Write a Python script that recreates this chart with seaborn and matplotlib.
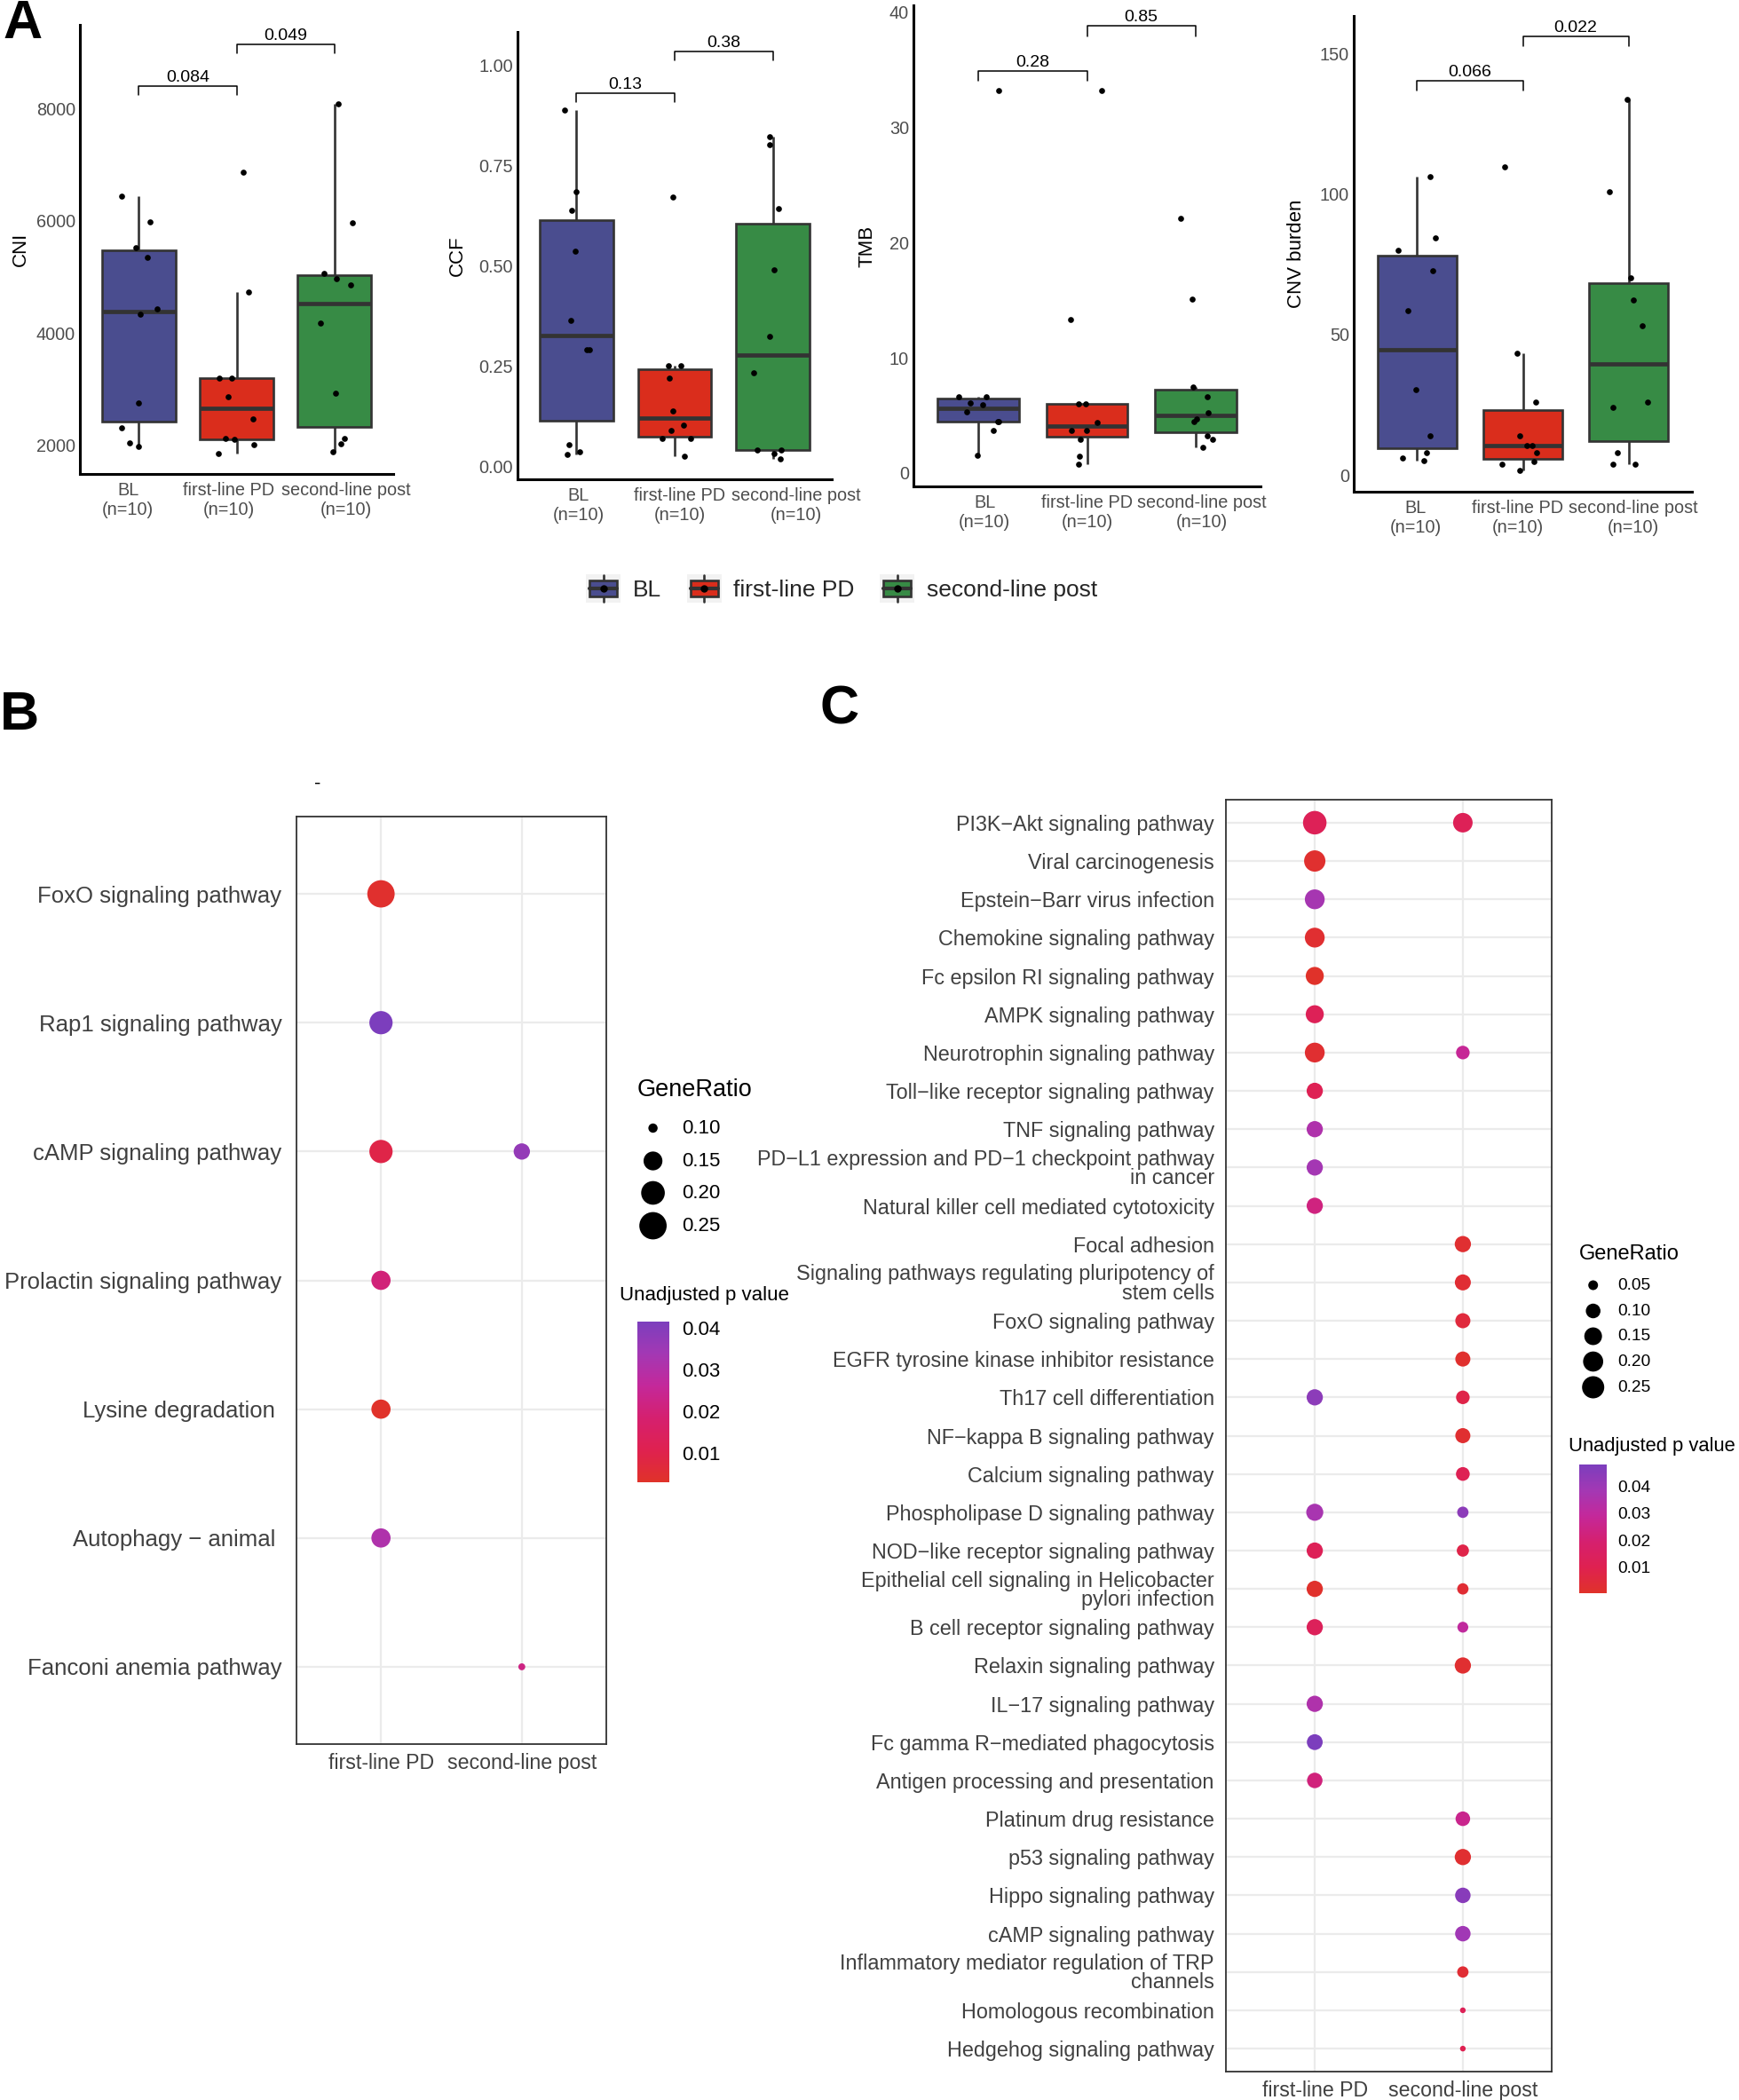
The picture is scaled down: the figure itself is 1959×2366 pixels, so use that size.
"""Copy-number / TMB boxplots (A) and KEGG enrichment dot plots (B, C)."""

import matplotlib

matplotlib.use("Agg")  # no display in the sandbox
import matplotlib.pyplot as plt
import numpy as np
import pandas as pd
import seaborn as sns
from matplotlib.cm import ScalarMappable
from matplotlib.colors import LinearSegmentedColormap, Normalize
from matplotlib.legend_handler import HandlerBase
from matplotlib.lines import Line2D
from matplotlib.patches import Patch, Rectangle

W, H, DPI = 1959, 2366, 100

GROUPS = ["BL", "first-line PD", "second-line post"]
GROUP_LABELS = ["BL\n(n=10)", "first-line PD\n(n=10)", "second-line post\n(n=10)"]
GROUP_COLORS = ["#4A4D8F", "#DA2D1C", "#378B45"]
EDGE = "#333333"

# ---- panel A: per-sample values ----
cni_bl = [6446, 5983, 5527, 5350, 4425, 4332, 2744, 2313, 2031, 1975]
cni_pd = [6865, 4726, 3200, 3200, 2863, 2463, 2125, 2094, 2013, 1850]
cni_post = [8094, 5970, 5058, 4977, 4865, 4176, 2931, 2125, 2019, 1881]

ccf_bl = [0.888, 0.684, 0.639, 0.537, 0.363, 0.290, 0.290, 0.053, 0.035, 0.030]
ccf_pd = [0.671, 0.250, 0.250, 0.220, 0.137, 0.102, 0.089, 0.069, 0.069, 0.025]
ccf_post = [0.821, 0.801, 0.642, 0.490, 0.323, 0.233, 0.041, 0.041, 0.031, 0.018]

tmb_bl = [33.2, 6.62, 6.62, 6.07, 5.95, 5.34, 4.48, 4.48, 3.72, 1.50]
tmb_pd = [33.2, 13.35, 6.0, 6.0, 4.42, 3.72, 3.72, 2.96, 1.43, 0.73]
tmb_post = [22.1, 15.1, 7.47, 6.62, 5.25, 4.70, 4.48, 3.26, 2.96, 2.26]

cnv_bl = [106.3, 84.4, 79.9, 72.8, 58.6, 30.5, 13.8, 8.0, 6.1, 5.2]
cnv_pd = [109.7, 43.4, 26.0, 13.8, 10.6, 10.6, 8.0, 4.8, 3.7, 1.5]
cnv_post = [133.6, 100.8, 70.0, 62.4, 53.0, 25.8, 24.1, 8.0, 3.9, 3.9]

cni_p = ["0.084", "0.049"]
ccf_p = ["0.13", "0.38"]
tmb_p = ["0.28", "0.85"]
cnv_p = ["0.066", "0.022"]

# ---- panel B: enrichment ----
b_pathways = [
    "FoxO signaling pathway",
    "Rap1 signaling pathway",
    "cAMP signaling pathway",
    "Prolactin signaling pathway",
    "Lysine degradation ",
    "Autophagy \u2212 animal ",
    "Fanconi anemia pathway",
]
b_ratio_pd = [0.25, 0.195, 0.195, 0.153, 0.153, 0.153, None]
b_ratio_post = [None, None, 0.13, None, None, None, 0.098]
b_p_pd = [0.0038, 0.0414, 0.009, 0.020, 0.003, 0.031, None]
b_p_post = [None, None, 0.0365, None, None, None, 0.022]

# ---- panel C: enrichment ----
c_pathways = [
    "PI3K\u2212Akt signaling pathway",
    "Viral carcinogenesis",
    "Epstein\u2212Barr virus infection",
    "Chemokine signaling pathway",
    "Fc epsilon RI signaling pathway",
    "AMPK signaling pathway",
    "Neurotrophin signaling pathway",
    "Toll\u2212like receptor signaling pathway",
    "TNF signaling pathway",
    "PD\u2212L1 expression and PD\u22121 checkpoint pathway\nin cancer",
    "Natural killer cell mediated cytotoxicity",
    "Focal adhesion",
    "Signaling pathways regulating pluripotency of\nstem cells",
    "FoxO signaling pathway",
    "EGFR tyrosine kinase inhibitor resistance",
    "Th17 cell differentiation",
    "NF\u2212kappa B signaling pathway",
    "Calcium signaling pathway",
    "Phospholipase D signaling pathway",
    "NOD\u2212like receptor signaling pathway",
    "Epithelial cell signaling in Helicobacter\npylori infection",
    "B cell receptor signaling pathway",
    "Relaxin signaling pathway",
    "IL\u221217 signaling pathway",
    "Fc gamma R\u2212mediated phagocytosis",
    "Antigen processing and presentation",
    "Platinum drug resistance",
    "p53 signaling pathway",
    "Hippo signaling pathway",
    "cAMP signaling pathway",
    "Inflammatory mediator regulation of TRP\nchannels",
    "Homologous recombination",
    "Hedgehog signaling pathway",
]
c_ratio_pd = [0.286, 0.228, 0.193, 0.193, 0.156, 0.156, 0.193, 0.124, 0.124, 0.124,
              0.124, None, None, None, None, 0.124, None, None, 0.138, 0.124,
              0.124, 0.124, None, 0.124, 0.117, 0.112, None, None, None, None,
              None, None, None]
c_ratio_post = [0.187, None, None, None, None, None, 0.086, None, None, None,
                None, 0.124, 0.120, 0.106, 0.106, 0.086, 0.106, 0.088, 0.062, 0.070,
                0.062, 0.058, 0.124, None, None, None, 0.099, 0.124, 0.112, 0.112,
                0.062, 0.037, 0.037]
c_p_pd = [0.012, 0.0017, 0.0375, 0.002, 0.0003, 0.012, 0.002, 0.011, 0.035, 0.038,
          0.023, None, None, None, None, 0.044, None, None, 0.037, 0.012,
          0.001, 0.013, None, 0.035, 0.048, 0.022, None, None, None, None,
          None, None, None]
c_p_post = [0.012, None, None, None, None, None, 0.028, None, None, None,
            None, 0.002, 0.003, 0.005, 0.0015, 0.008, 0.002, 0.011, 0.044, 0.008,
            0.003, 0.030, 0.002, None, None, None, 0.026, 0.002, 0.045, 0.039,
            0.003, 0.012, 0.010]

PCMAP = LinearSegmentedColormap.from_list(
    "pval", ["#E0322A", "#DF2150", "#D5206F", "#C4289A", "#A338B4", "#7C3EBD"]
)


def px_axes(fig, box, **kw):
    l, t, r, b = box
    return fig.add_axes([l / W, 1 - b / H, (r - l) / W, (b - t) / H], **kw)


def gg_size(v, lims, diam_px):
    """ggplot-like area palette -> matplotlib marker area (pt^2)."""
    t = np.clip((np.asarray(v, dtype=float) - lims[0]) / (lims[1] - lims[0]), 0, 1)
    d = diam_px[0] + (diam_px[1] - diam_px[0]) * np.sqrt(t)
    return (d * 72 / DPI) ** 2


class BoxKeyHandler(HandlerBase):
    def create_artists(self, legend, orig_handle, xdescent, ydescent,
                       width, height, fontsize, trans):
        x0, y0 = -xdescent, -ydescent
        cx, cy = x0 + width / 2, y0 + height / 2
        bg = Rectangle((x0, y0), width, height, facecolor="#F2F2F2",
                       edgecolor="none", transform=trans)
        whisk = Line2D([cx, cx], [y0 + 0.04 * height, y0 + 0.96 * height],
                       color=EDGE, lw=1.9, transform=trans)
        box = Rectangle((x0 + 0.1 * width, y0 + 0.22 * height), 0.8 * width,
                        0.56 * height, facecolor=orig_handle.get_facecolor(),
                        edgecolor=EDGE, lw=1.9, transform=trans)
        med = Line2D([x0 + 0.1 * width, x0 + 0.9 * width], [cy, cy],
                     color=EDGE, lw=3.0, transform=trans)
        dot = Line2D([cx], [cy], marker="o", ms=5, color="black",
                     ls="", transform=trans)
        return [bg, whisk, box, med, dot]


def box_panel(fig, box, name, series, pvals, ylim, yticks, fmt, ylab_x, xoffs):
    ax = px_axes(fig, box)
    df = pd.DataFrame({
        "group": np.repeat(GROUPS, [len(s) for s in series]),
        "value": np.concatenate(series),
    })
    sns.boxplot(data=df, x="group", y="value", hue="group", order=GROUPS,
                hue_order=GROUPS, palette=GROUP_COLORS, saturation=1,
                width=0.75, showfliers=False, linecolor=EDGE, linewidth=1.9,
                medianprops={"linewidth": 3.4}, capprops={"visible": False},
                legend=False, ax=ax)
    sns.stripplot(data=df, x="group", y="value", order=GROUPS, color="black",
                  size=4.8, jitter=0.2, linewidth=0, zorder=3, ax=ax)
    ax.set_xlim(-0.6, 2.6)
    ax.set_ylim(*ylim)
    ax.set_yticks(yticks)
    ax.set_yticklabels([fmt.format(v) for v in yticks])
    ax.set_xticks(range(3))
    ax.set_xticklabels([])
    # group labels, nudged sideways like in the original layout
    for i, (lab, dx) in enumerate(zip(GROUP_LABELS, xoffs)):
        ax.annotate(lab, xy=(i, 0), xycoords=ax.get_xaxis_transform(),
                    xytext=(dx * 72 / DPI, -6.2), textcoords="offset points",
                    ha="center", va="top", fontsize=14.3, color="#4D4D4D")
    sns.despine(ax=ax)
    for side in ("left", "bottom"):
        ax.spines[side].set_linewidth(2.2)
        ax.spines[side].set_color("black")
    ax.tick_params(axis="both", length=2.2, width=1.2, color="#4D4D4D",
                   labelcolor="#4D4D4D", labelsize=14.3)
    ax.tick_params(axis="y", pad=1.5)
    ax.set_xlabel("")
    ax.set_ylabel(name, fontsize=16, color="black")
    l, t, r, b = box
    ax.yaxis.set_label_coords((ylab_x - l) / (r - l), 0.5)
    ax.yaxis.label.set_va("center")

    # pairwise comparison brackets
    trans = ax.get_xaxis_transform()
    for (i, j), yb, p in zip([(0, 1), (1, 2)], [0.864, 0.957], pvals):
        ax.plot([i, i, j, j], [yb - 0.021, yb, yb, yb - 0.021], color="black",
                lw=1.1, transform=trans, clip_on=False)
        ax.text((i + j) / 2, yb + 0.009, p, ha="center", va="baseline",
                fontsize=14, color="black", transform=trans)
    return ax


def dot_panel(fig, box, pathways, r_pd, r_post, p_pd, p_post, diam, ytick_fs, ypad):
    rows = []
    for name, r1, r2, q1, q2 in zip(pathways, r_pd, r_post, p_pd, p_post):
        if r1 is not None:
            rows.append((name, GROUPS[1], r1, q1))
        if r2 is not None:
            rows.append((name, GROUPS[2], r2, q2))
    df = pd.DataFrame(rows, columns=["pathway", "group", "ratio", "p"])
    rlims = (df["ratio"].min(), df["ratio"].max())
    plims = (df["p"].min(), df["p"].max())
    sizes = {v: float(gg_size(v, rlims, diam)) for v in df["ratio"].unique()}

    ax = px_axes(fig, box)
    ax.grid(True, color="#EBEBEB", linewidth=1.6)
    ax.set_axisbelow(True)
    sns.scatterplot(data=df, x="group", y="pathway", size="ratio", sizes=sizes,
                    hue="p", palette=PCMAP, hue_norm=plims, linewidth=0,
                    legend=False, ax=ax)
    n = len(pathways)
    ax.set_xlim(-0.6, 1.6)
    ax.set_ylim(n - 1 + 0.6, -0.6)
    ax.set_xlabel("")
    ax.set_ylabel("")
    for sp in ax.spines.values():
        sp.set_visible(True)
        sp.set_color(EDGE)
        sp.set_linewidth(1.3)
    ax.tick_params(axis="both", length=4.5, width=1.3, color=EDGE,
                   labelcolor="#404040")
    ax.tick_params(axis="y", labelsize=ytick_fs, pad=ypad)
    ax.tick_params(axis="x", labelsize=16.7, pad=3)
    for lbl in ax.get_yticklabels():
        lbl.set_linespacing(0.9)
    return ax, rlims, plims


def size_legend(ov, title, title_xy, title_fs, values, ys, dot_x, label_x,
                label_fs, lims, diam):
    ov.text(title_xy[0], title_xy[1], title, fontsize=title_fs, ha="left",
            va="center", color="black")
    ov.scatter([dot_x] * len(values), ys, s=gg_size(values, lims, diam),
               color="black", linewidths=0)
    for v, y in zip(values, ys):
        ov.text(label_x, y, f"{v:.2f}", fontsize=label_fs, ha="left",
                va="center", color="black")


def color_legend(fig, ov, title, title_xy, title_fs, cbox, plims, label_fs, pad):
    ov.text(title_xy[0], title_xy[1], title, fontsize=title_fs, ha="left",
            va="center", color="black")
    cax = px_axes(fig, cbox)
    sm = ScalarMappable(norm=Normalize(*plims), cmap=PCMAP)
    cb = fig.colorbar(sm, cax=cax, ticks=[0.01, 0.02, 0.03, 0.04])
    cb.outline.set_visible(False)
    cb.ax.set_yticklabels(["0.01", "0.02", "0.03", "0.04"])
    tick_len = (cbox[2] - cbox[0]) * 0.2 * 72 / DPI
    cax.tick_params(axis="y", direction="in", left=True, right=True,
                    color="white", length=tick_len, width=1.2,
                    labelsize=label_fs, pad=pad, labelcolor="black")


sns.set_theme(style="white")
plt.rcParams["font.family"] = ["Liberation Sans", "DejaVu Sans"]
plt.rcParams["axes.unicode_minus"] = True

fig = plt.figure(figsize=(W / DPI, H / DPI), dpi=DPI)
np.random.seed(7)

box_panel(fig, (90, 28, 443, 534), "CNI", [cni_bl, cni_pd, cni_post], cni_p,
          (1484, 9500), [2000, 4000, 6000, 8000], "{:.0f}", 23, (-12, -9, 13))
box_panel(fig, (583, 36, 937, 540), "CCF", [ccf_bl, ccf_pd, ccf_post], ccf_p,
          (-0.033, 1.083), [0, 0.25, 0.5, 0.75, 1.0], "{:.2f}", 515, (2, 6, 26))
box_panel(fig, (1029, 6, 1420, 548), "TMB", [tmb_bl, tmb_pd, tmb_post], tmb_p,
          (-1.16, 40.6), [0, 10, 20, 30, 40], "{:.0f}", 977, (7, 0, 7))
box_panel(fig, (1525, 18, 1906, 554), "CNV burden", [cnv_bl, cnv_pd, cnv_post],
          cnv_p, (-5.95, 163.3), [0, 50, 100, 150], "{:.0f}", 1461, (-2, -6, 5))

handles = [Patch(facecolor=c, label=g) for g, c in zip(GROUPS, GROUP_COLORS)]
fig.legend(handles=handles, labels=GROUPS, loc="center",
           bbox_to_anchor=(948 / W, 1 - 663 / H), ncol=3, frameon=False,
           fontsize=19, handlelength=1.48, handleheight=1.5, handletextpad=0.5,
           columnspacing=1.1, handler_map={Patch: BoxKeyHandler()})

b_ax, b_rl, b_pl = dot_panel(fig, (334, 920, 683, 1965), b_pathways, b_ratio_pd,
                             b_ratio_post, b_p_pd, b_p_post, (7.8, 30.8), 18.5, 7.5)
c_ax, c_rl, c_pl = dot_panel(fig, (1381, 901, 1748, 2334), c_pathways, c_ratio_pd,
                             c_ratio_post, c_p_pd, c_p_post, (6.4, 26.5), 16.8, 5.0)

# overlay in pixel coordinates for legends and panel letters
ov = fig.add_axes([0, 0, 1, 1], zorder=10)
ov.set_xlim(0, W)
ov.set_ylim(H, 0)
ov.axis("off")

size_legend(ov, "GeneRatio", (718, 1228), 19.5, [0.10, 0.15, 0.20, 0.25],
            [1271, 1308, 1344, 1381], 735.6, 768, 16, b_rl, (7.8, 30.8))
color_legend(fig, ov, "Unadjusted p value", (698, 1459), 16,
             (718, 1489, 753.5, 1669.5), b_pl, 16, 10.4)

size_legend(ov, "GeneRatio", (1779, 1413), 17, [0.05, 0.10, 0.15, 0.20, 0.25],
            [1448, 1477, 1505.5, 1534, 1563], 1794.7, 1822.7, 13.8, c_rl, (6.4, 26.5))
color_legend(fig, ov, "Unadjusted p value", (1767, 1629.5), 15.8,
             (1779, 1650, 1810, 1795), c_pl, 13.8, 9.1)

ov.text(358, 883, "-", fontsize=16, ha="center", va="center", color="black")
for letter, x, y in [("A", 3, 43), ("B", 0, 822), ("C", 924, 815)]:
    ov.text(x, y, letter, fontsize=44, fontweight="bold", ha="left",
            va="baseline", color="black")

fig.savefig("out.png", dpi=DPI)
